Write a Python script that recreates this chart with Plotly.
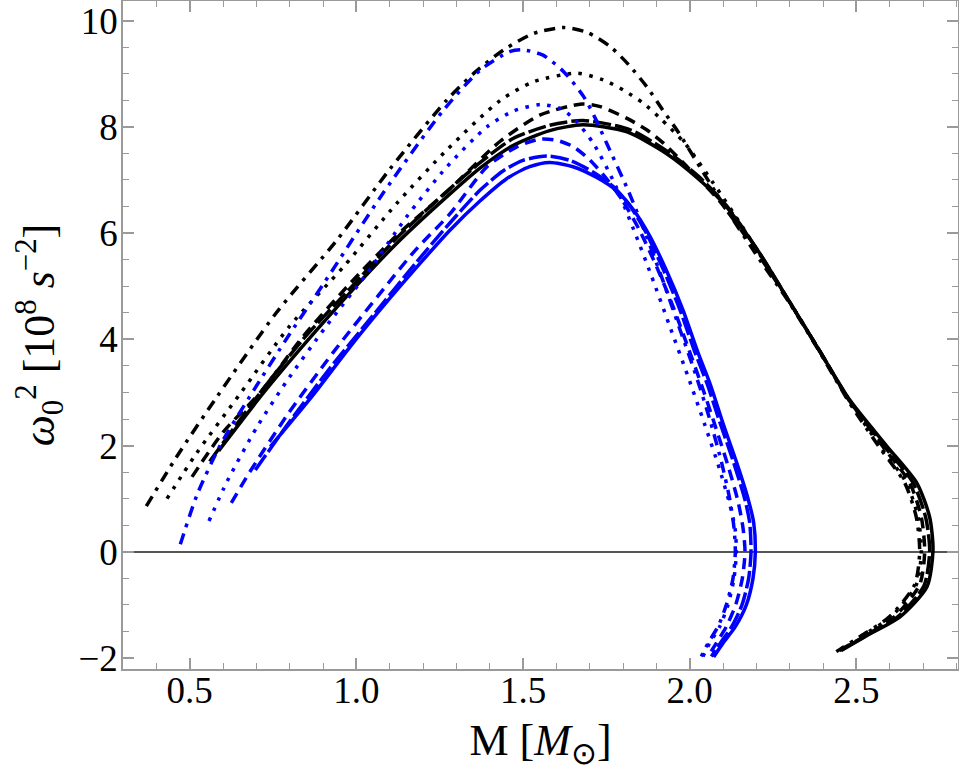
import plotly.graph_objects as go

# black family (M in solar masses, omega_0^2 in 1e8 s^-2)
bk_solid_m = [0.587, 0.72, 0.85, 0.98, 1.12, 1.26, 1.37, 1.47, 1.58, 1.68, 1.81, 1.93, 2.03, 2.11, 2.21, 2.30, 2.39, 2.48, 2.59, 2.682, 2.72, 2.73, 2.712, 2.632, 2.54, 2.455]
bk_solid_w = [1.90, 2.98, 3.95, 4.87, 5.80, 6.62, 7.22, 7.65, 7.93, 8.04, 7.91, 7.50, 7.00, 6.50, 5.62, 4.70, 3.78, 2.86, 2.00, 1.29, 0.65, 0.03, -0.66, -1.22, -1.55, -1.86]

bk_ldash_m = [0.56, 0.70, 0.84, 0.98, 1.12, 1.26, 1.37, 1.47, 1.58, 1.68, 1.82, 1.93, 2.03, 2.11, 2.21, 2.30, 2.39, 2.48, 2.585, 2.67, 2.708, 2.72, 2.703, 2.625, 2.535, 2.45]
bk_ldash_w = [1.70, 2.90, 4.00, 4.95, 5.90, 6.72, 7.32, 7.78, 8.03, 8.12, 7.95, 7.55, 7.05, 6.52, 5.62, 4.70, 3.78, 2.84, 1.98, 1.30, 0.65, 0.02, -0.64, -1.22, -1.56, -1.86]

bk_dash_m = [0.507, 0.60, 0.712, 0.84, 0.972, 1.12, 1.272, 1.43, 1.55, 1.677, 1.732, 1.812, 1.872, 1.922, 2.00, 2.09, 2.20, 2.30, 2.39, 2.48, 2.58, 2.66, 2.695, 2.705, 2.69, 2.615, 2.53, 2.445]
bk_dash_w = [1.41, 2.25, 3.00, 4.05, 4.99, 5.95, 6.78, 7.72, 8.22, 8.43, 8.38, 8.16, 7.94, 7.69, 7.20, 6.60, 5.65, 4.70, 3.78, 2.84, 1.98, 1.30, 0.65, 0.00, -0.62, -1.22, -1.57, -1.87]

bk_dot_m = [0.432, 0.52, 0.652, 0.80, 0.962, 1.12, 1.272, 1.432, 1.532, 1.662, 1.742, 1.802, 1.862, 1.912, 1.987, 2.07, 2.15, 2.22, 2.30, 2.39, 2.48, 2.575, 2.65, 2.685, 2.695, 2.68, 2.605, 2.52, 2.44]
bk_dot_w = [1.00, 1.85, 2.98, 4.25, 5.37, 6.55, 7.57, 8.50, 8.85, 9.01, 8.88, 8.69, 8.44, 8.16, 7.68, 6.95, 6.20, 5.50, 4.70, 3.78, 2.82, 1.96, 1.30, 0.65, 0.00, -0.62, -1.22, -1.57, -1.88]

bk_dotdash_m = [0.37, 0.46, 0.582, 0.76, 0.942, 1.10, 1.272, 1.36, 1.442, 1.532, 1.622, 1.692, 1.762, 1.817, 1.872, 1.919, 1.967, 2.04, 2.12, 2.21, 2.30, 2.39, 2.48, 2.57, 2.645, 2.68, 2.69, 2.675, 2.60, 2.515, 2.44]
bk_dotdash_w = [0.86, 1.78, 2.92, 4.50, 5.87, 7.20, 8.51, 9.05, 9.45, 9.76, 9.87, 9.78, 9.51, 9.17, 8.75, 8.32, 7.89, 7.15, 6.35, 5.50, 4.68, 3.76, 2.80, 1.96, 1.30, 0.65, 0.00, -0.62, -1.22, -1.58, -1.88]

# blue family
bl_solid_m = [0.742, 0.87, 0.98, 1.08, 1.18, 1.28, 1.37, 1.45, 1.52, 1.58, 1.65, 1.72, 1.78, 1.83, 1.88, 1.93, 1.98, 2.025, 2.062, 2.10, 2.142, 2.175, 2.192, 2.197, 2.19, 2.17, 2.137, 2.10, 2.072]
bl_solid_w = [1.98, 2.95, 3.85, 4.62, 5.35, 6.05, 6.60, 7.02, 7.25, 7.33, 7.25, 7.05, 6.80, 6.45, 5.95, 5.30, 4.55, 3.75, 3.15, 2.42, 1.66, 1.00, 0.55, 0.00, -0.50, -1.00, -1.41, -1.72, -1.98]

bl_ldash_m = [0.697, 0.80, 0.92, 1.05, 1.18, 1.282, 1.37, 1.44, 1.50, 1.572, 1.64, 1.71, 1.77, 1.82, 1.87, 1.92, 1.97, 2.015, 2.052, 2.09, 2.133, 2.165, 2.18, 2.184, 2.177, 2.157, 2.126, 2.092, 2.065]
bl_ldash_w = [1.54, 2.45, 3.45, 4.45, 5.45, 6.20, 6.80, 7.17, 7.37, 7.45, 7.37, 7.15, 6.88, 6.52, 6.00, 5.33, 4.57, 3.77, 3.17, 2.45, 1.66, 1.00, 0.55, 0.00, -0.50, -1.00, -1.41, -1.72, -1.97]

bl_dash_m = [0.625, 0.68, 0.79, 0.93, 1.082, 1.18, 1.282, 1.392, 1.48, 1.55, 1.60, 1.65, 1.70, 1.751, 1.80, 1.85, 1.90, 1.95, 1.995, 2.035, 2.075, 2.115, 2.145, 2.16, 2.166, 2.158, 2.138, 2.11, 2.08, 2.055]
bl_dash_w = [0.92, 1.50, 2.55, 3.75, 4.95, 5.70, 6.37, 7.25, 7.62, 7.77, 7.75, 7.63, 7.38, 7.02, 6.60, 6.05, 5.38, 4.62, 3.85, 3.15, 2.40, 1.62, 0.95, 0.45, 0.00, -0.50, -1.00, -1.41, -1.72, -1.97]

bl_dot_m = [0.558, 0.612, 0.702, 0.79, 0.91, 1.032, 1.15, 1.272, 1.392, 1.472, 1.552, 1.61, 1.652, 1.711, 1.772, 1.83, 1.885, 1.94, 1.995, 2.045, 2.09, 2.12, 2.136, 2.14, 2.133, 2.115, 2.09, 2.06, 2.04]
bl_dot_w = [0.58, 1.32, 2.35, 3.20, 4.25, 5.24, 6.30, 7.25, 8.00, 8.30, 8.42, 8.35, 8.16, 7.69, 6.97, 6.10, 5.20, 4.25, 3.30, 2.40, 1.55, 0.90, 0.45, 0.00, -0.50, -1.00, -1.41, -1.72, -1.97]

bl_dotdash_m = [0.472, 0.522, 0.592, 0.68, 0.80, 0.902, 1.08, 1.262, 1.372, 1.462, 1.50, 1.56, 1.622, 1.682, 1.717, 1.751, 1.817, 1.87, 1.92, 1.97, 2.02, 2.06, 2.095, 2.12, 2.133, 2.137, 2.13, 2.11, 2.085, 2.055, 2.035]
bl_dotdash_w = [0.14, 1.07, 2.01, 2.92, 4.10, 5.05, 6.75, 8.32, 9.07, 9.42, 9.45, 9.35, 9.04, 8.57, 8.16, 7.69, 6.78, 5.95, 5.10, 4.20, 3.30, 2.50, 1.70, 1.00, 0.45, 0.00, -0.50, -1.00, -1.41, -1.72, -1.97]

x_ticks = [0.5, 1.0, 1.5, 2.0, 2.5]
y_ticks = [-2, 0, 2, 4, 6, 8, 10]

SOLID = "solid"
LDASH = "18px,4px"
DASH = "11px,7px"
DOT = "3.5px,7.5px"
DOTDASH = "11px,7px,3.5px,7px"

curves = [
    (bk_solid_m, bk_solid_w, "black", SOLID),
    (bk_ldash_m, bk_ldash_w, "black", LDASH),
    (bk_dash_m, bk_dash_w, "black", DASH),
    (bk_dot_m, bk_dot_w, "black", DOT),
    (bk_dotdash_m, bk_dotdash_w, "black", DOTDASH),
    (bl_solid_m, bl_solid_w, "#0000ff", SOLID),
    (bl_ldash_m, bl_ldash_w, "#0000ff", LDASH),
    (bl_dash_m, bl_dash_w, "#0000ff", DASH),
    (bl_dot_m, bl_dot_w, "#0000ff", DOT),
    (bl_dotdash_m, bl_dotdash_w, "#0000ff", DOTDASH),
]

fig = go.Figure()
for m, w, c, d in curves:
    fig.add_trace(go.Scatter(
        x=m, y=w, mode="lines",
        line=dict(color=c, width=3.5, dash=d, shape="spline", smoothing=0.7),
        showlegend=False, hoverinfo="skip",
    ))

font_family = "Liberation Serif, serif"
frame = "#9a9a9a"

fig.update_layout(
    width=959, height=779,
    margin=dict(l=123, r=1, t=1, b=110),
    plot_bgcolor="white", paper_bgcolor="white",
    font=dict(family=font_family, size=37, color="black"),
    xaxis=dict(
        range=[0.3, 2.805], tickvals=x_ticks, ticktext=[f"{v:.1f}" for v in x_ticks],
        automargin=False, showgrid=False, zeroline=False,
        showline=True, linecolor=frame, linewidth=1.5, mirror="allticks",
        ticks="inside", ticklen=11, tickwidth=1.5, tickcolor=frame,
        ticklabelstandoff=-12,
        minor=dict(ticks="inside", ticklen=6, tickwidth=1, tickcolor=frame, dtick=0.1, showgrid=False),
        title=dict(text="M [<i>M</i><sub>⊙</sub>]", standoff=14),
    ),
    yaxis=dict(
        range=[-2.207, 10.37], tickvals=y_ticks,
        automargin=False, showgrid=False, zeroline=True, zerolinecolor="#555555", zerolinewidth=1.5,
        showline=True, linecolor=frame, linewidth=1.5, mirror="allticks",
        ticks="inside", ticklen=11, tickwidth=1.5, tickcolor=frame,
        ticklabelstandoff=-4,
        minor=dict(ticks="inside", ticklen=6, tickwidth=1, tickcolor=frame, dtick=0.5, showgrid=False),
        title=dict(text="<i>ω</i><sub>0</sub><sup>2</sup> [10<sup>8</sup> <i>s</i><sup>−2</sup>]", standoff=10),
    ),
)

# the page puts an 8px margin round the body; drop it so the figure sits at 0,0
fig.write_html("out.html", config={"displayModeBar": False},
               post_script="document.body.style.margin='0';")
